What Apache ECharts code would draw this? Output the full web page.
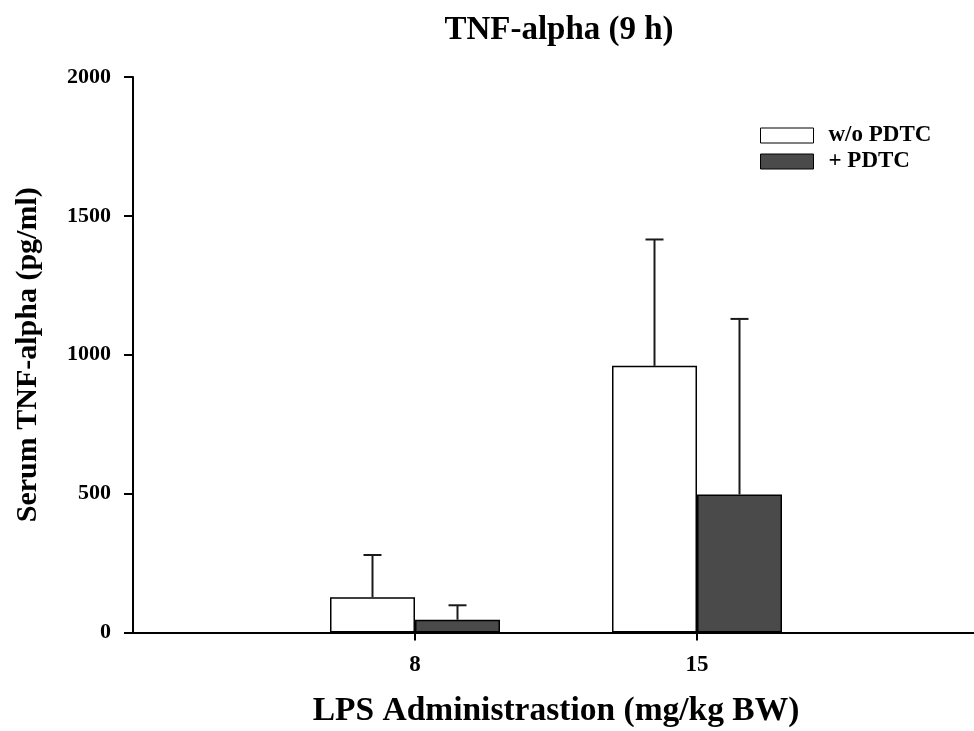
<!DOCTYPE html>
<html><head><meta charset="utf-8">
<script src="https://cdn.jsdelivr.net/npm/echarts@6/dist/echarts.min.js"></script>
<style>html,body{margin:0;padding:0;background:#fff}#c{width:974px;height:731px}</style>
</head><body><div id="c"></div>
<script>
var categories = ['8', '15'];
var catPositions = [1, 2];
var seriesNames = ['w/o PDTC', '+ PDTC'];
var withoutPDTC = [127, 960];
var withoutPDTCErr = [279, 1415];
var withPDTC = [46, 497];
var withPDTCErr = [98, 1129];
var yTicks = [0, 500, 1000, 1500, 2000];

var FONT = '"Liberation Serif", "Times New Roman", serif';
var BAR_W = 85;
var chart = echarts.init(document.getElementById('c'), null, {renderer: 'canvas'});

function pairs(vals) { return vals.map(function (v, i) { return [catPositions[i], v]; }); }

function errSeries(name, means, tops, offset) {
  return {
    type: 'custom', name: name + ' err', silent: true, z: 3,
    data: means.map(function (m, i) { return [catPositions[i], m, tops[i]]; }),
    renderItem: function (params, api) {
      var base = api.coord([api.value(0), api.value(1)]);
      var top = api.coord([api.value(0), api.value(2)]);
      var x = base[0] + offset;
      var style = {stroke: '#1a1a1a', lineWidth: 2};
      return {type: 'group', children: [
        {type: 'line', shape: {x1: x, y1: base[1], x2: x, y2: top[1]}, style: style},
        {type: 'line', shape: {x1: x - 9, y1: top[1], x2: x + 9, y2: top[1]}, style: style}
      ]};
    }
  };
}

chart.setOption({
  animation: false,
  backgroundColor: '#fff',
  title: {text: 'TNF-alpha (9 h)', left: 554, top: 9, textAlign: 'center',
    textStyle: {fontFamily: FONT, fontWeight: 'bold', fontSize: 33, color: '#000'}},
  legend: {orient: 'vertical', left: 755, top: 119, itemWidth: 53, itemHeight: 15, itemGap: 3,
    icon: 'rect',
    data: seriesNames,
    itemStyle: {borderColor: '#000', borderWidth: 1},
    textStyle: {fontFamily: FONT, fontWeight: 'bold', fontSize: 23, color: '#000', padding: [0, 0, 0, 10]},
    selectedMode: false},
  grid: {left: 133, top: 77, width: 846, height: 555.5, containLabel: false, outerBoundsMode: 'none'},
  xAxis: {type: 'value', min: 0, max: 3, interval: 1,
    name: 'LPS Administrastion (mg/kg BW)', nameLocation: 'middle', nameGap: 62,
    nameTextStyle: {fontFamily: FONT, fontWeight: 'bold', fontSize: 33.5, color: '#000'},
    axisLine: {lineStyle: {color: '#000', width: 2}},
    axisTick: {show: true, length: 8, lineStyle: {color: '#000', width: 2},
      customValues: catPositions},
    axisLabel: {margin: 21, fontFamily: FONT, fontWeight: 'bold', fontSize: 23, color: '#000',
      customValues: catPositions,
      formatter: function (v) { var i = catPositions.indexOf(v); return i >= 0 ? categories[i] : ''; }},
    splitLine: {show: false}},
  yAxis: {type: 'value', min: yTicks[0], max: yTicks[yTicks.length - 1], interval: 500,
    name: 'Serum TNF-alpha (pg/ml)', nameLocation: 'middle', nameGap: 90, nameRotate: 90,
    nameTextStyle: {fontFamily: FONT, fontWeight: 'bold', fontSize: 30, color: '#000'},
    axisLine: {show: true, lineStyle: {color: '#000', width: 2}},
    axisTick: {show: true, length: 9, lineStyle: {color: '#000', width: 2}},
    axisLabel: {margin: 22, fontFamily: FONT, fontWeight: 'bold', fontSize: 22, color: '#000',
      formatter: function (v) { return String(v); }},
    splitLine: {show: false}},
  series: [
    {type: 'bar', name: seriesNames[0], data: pairs(withoutPDTC), barWidth: BAR_W, barGap: '0%', z: 2,
      itemStyle: {color: '#ffffff', borderColor: '#000', borderWidth: 1.5}},
    {type: 'bar', name: seriesNames[1], data: pairs(withPDTC), barWidth: BAR_W, barGap: '0%', z: 2,
      itemStyle: {color: '#4a4a4a', borderColor: '#000', borderWidth: 1.5}},
    errSeries(seriesNames[0], withoutPDTC, withoutPDTCErr, -BAR_W / 2),
    errSeries(seriesNames[1], withPDTC, withPDTCErr, BAR_W / 2)
  ]
});
</script></body></html>
